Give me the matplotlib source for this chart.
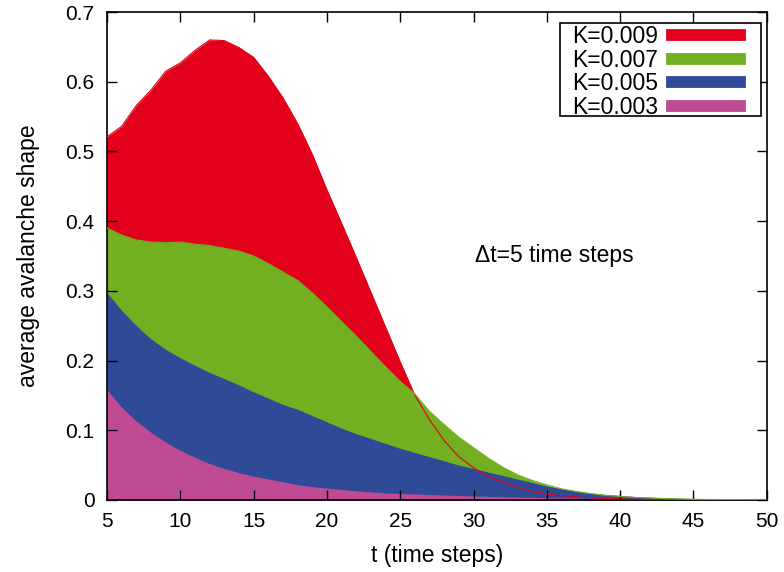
import numpy as np
import matplotlib
matplotlib.use("Agg")
import matplotlib.pyplot as plt
from matplotlib.patches import Rectangle

plt.rcParams['font.family'] = ['Liberation Sans', 'DejaVu Sans']

# --- data (t = 5..50) ---
t = list(range(5, 51))

k009 = [0.521, 0.536, 0.566, 0.588, 0.615, 0.627, 0.645, 0.660, 0.659, 0.649,
        0.635, 0.608, 0.577, 0.540, 0.496, 0.445, 0.397, 0.348, 0.298, 0.248,
        0.198, 0.150, 0.115, 0.085, 0.062, 0.046, 0.034, 0.025, 0.018, 0.012,
        0.0085, 0.006, 0.0045, 0.003, 0.002, 0.0015, 0.001, 0.0008, 0.0006, 0.0005,
        0.0004, 0.0003, 0.0002, 0.0001, 0.0001, 0.0]

k007 = [0.390, 0.380, 0.373, 0.370, 0.369, 0.370, 0.367, 0.365, 0.361, 0.357,
        0.350, 0.339, 0.327, 0.315, 0.297, 0.277, 0.256, 0.235, 0.213, 0.191,
        0.170, 0.152, 0.127, 0.108, 0.090, 0.075, 0.060, 0.047, 0.036, 0.028,
        0.0215, 0.016, 0.012, 0.009, 0.0065, 0.005, 0.0035, 0.0028, 0.002, 0.0015,
        0.001, 0.0007, 0.0005, 0.0003, 0.0002, 0.0001]

k005 = [0.297, 0.272, 0.250, 0.231, 0.216, 0.204, 0.193, 0.183, 0.174, 0.165,
        0.155, 0.146, 0.137, 0.130, 0.121, 0.112, 0.103, 0.095, 0.088, 0.081,
        0.074, 0.068, 0.062, 0.056, 0.050, 0.045, 0.040, 0.035, 0.030, 0.025,
        0.020, 0.016, 0.013, 0.010, 0.008, 0.0065, 0.005, 0.004, 0.003, 0.0024,
        0.0018, 0.0013, 0.001, 0.0006, 0.0003, 0.0001]

k003 = [0.158, 0.133, 0.113, 0.097, 0.083, 0.071, 0.061, 0.052, 0.045, 0.039,
        0.034, 0.030, 0.026, 0.022, 0.019, 0.017, 0.015, 0.013, 0.0115, 0.010,
        0.0093, 0.0085, 0.0077, 0.007, 0.0063, 0.0057, 0.005, 0.0045, 0.004, 0.0036,
        0.0032, 0.0028, 0.0025, 0.0022, 0.002, 0.0018, 0.0016, 0.0014, 0.0012, 0.0011,
        0.001, 0.0009, 0.0008, 0.0007, 0.0006, 0.0005]

labels = ['K=0.009', 'K=0.007', 'K=0.005', 'K=0.003']
colors = ['#e2001a', '#72b021', '#2f4b97', '#bf4b95']

yticks = [0, 0.1, 0.2, 0.3, 0.4, 0.5, 0.6, 0.7]
ytick_labels = ['0', '0.1', '0.2', '0.3', '0.4', '0.5', '0.6', '0.7']
xticks = [5, 10, 15, 20, 25, 30, 35, 40, 45, 50]

fig = plt.figure(figsize=(7.84, 5.72), dpi=100)
ax = fig.add_axes([0.1365, 0.126, 0.8415, 0.853])

series = [k009, k007, k005, k003]
for ys, c, lab in zip(series, colors, labels):
    ax.fill_between(t, 0, ys, color=c, linewidth=0, label=lab)

# thin outlines of the two upper curves, visible where they dip under the others
ax.plot(t, k009, color=colors[0], lw=0.8, zorder=5)
ax.plot(t, k007, color=colors[1], lw=0.8, zorder=5)

ax.set_xlim(5, 50)
ax.set_ylim(0, 0.7)
ax.set_xticks(xticks)
ax.set_yticks(yticks)
ax.set_yticklabels(ytick_labels)
ax.tick_params(direction='in', length=7.5, width=1, top=True, right=True,
               labelsize=15, pad=9)
for sp in ax.spines.values():
    sp.set_linewidth(1.2)

ax.set_xlabel('t (time steps)', fontsize=16.5, labelpad=9)
ax.set_ylabel('average avalanche shape', fontsize=16.5, labelpad=18)

ax.text(30.1, 0.351, '\u0394t=5 time steps', fontsize=16.5, va='center', ha='left')

# legend without its own frame; gnuplot-style box drawn separately
handles = [plt.Line2D([0], [0], color=c, lw=8.5) for c in colors]
leg = ax.legend(handles, labels, loc='upper right', markerfirst=False,
                fontsize=16.5, frameon=False, handlelength=2.95,
                borderpad=0.0, labelspacing=0.02, handletextpad=0.6,
                borderaxespad=0.0, bbox_to_anchor=(0.959, 0.973))
leg.set_zorder(10)
ax.add_patch(Rectangle((0.686, 0.787), 0.306, 0.19, transform=ax.transAxes,
                       facecolor='white', edgecolor='black', lw=1.2, zorder=9))

fig.savefig('out.png', dpi=100)
